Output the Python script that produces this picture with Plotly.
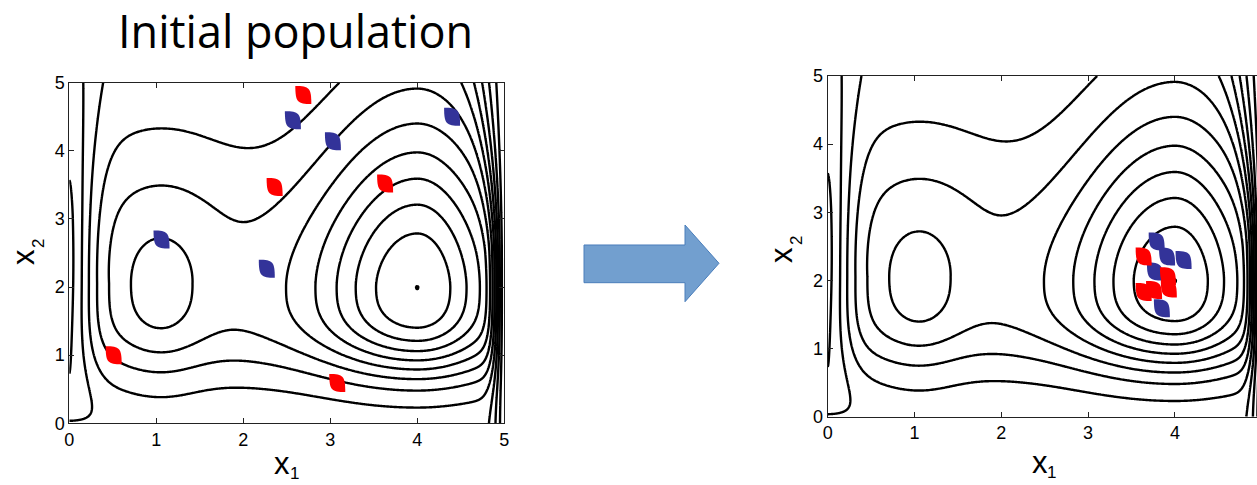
import numpy as np
import plotly.graph_objects as go

W, H = 1257, 485

# ---- data -------------------------------------------------------------
tick_vals = [0, 1, 2, 3, 4, 5]
contour_levels = dict(start=-1, end=11, size=1)

init_red_x = [2.69, 2.36, 3.63, 0.51, 3.08]
init_red_y = [4.82, 3.47, 3.52, 1.00, 0.59]
init_blue_x = [2.57, 3.03, 4.40, 1.06, 2.27]
init_blue_y = [4.45, 4.14, 4.50, 2.70, 2.27]

final_red_x = [3.64, 3.92, 3.93, 3.64, 3.76]
final_red_y = [2.35, 2.06, 1.88, 1.83, 1.86]
final_blue_x = [3.79, 3.91, 4.10, 3.77, 3.85]
final_blue_y = [2.57, 2.35, 2.30, 2.13, 1.59]


# ---- fitness landscape ------------------------------------------------
def bump(d, s_neg, s_pos, p_neg, p_pos):
    return np.where(d < 0,
                    np.exp(-(np.abs(d) / s_neg) ** p_neg),
                    np.exp(-(np.abs(d) / s_pos) ** p_pos))


xs = np.unique(np.concatenate([np.linspace(0, 5, 301),
                               np.linspace(0, 0.3, 61),
                               np.linspace(3.9, 4.1, 41),
                               np.linspace(4.6, 5, 161)]))
ys = np.unique(np.concatenate([np.linspace(0, 5, 301), np.linspace(1.9, 2.1, 41)]))
X, Y = np.meshgrid(xs, ys)

ridge = np.where(Y >= 2,
                 2.75 + 2.35 * np.exp(-((Y - 2) / 1.5) ** 2 / 2),
                 2.3 + 2.8 * np.exp(-(np.abs(Y - 2) / 1.3) ** 3))
dy2 = Y - 2
below = np.exp(-(np.abs(dy2) / 1.4) ** 3 - (dy2 / 2.5) ** 2)
above = np.exp(-(np.abs(dy2) / 2.7) ** 1.68)
peak_right = 5.901 * bump(X - 4, 1.10, 0.88, 2, 2) * np.where(dy2 < 0, below, above)
dy1 = Y - 2.05
sx1 = 0.5 + 0.2 * np.clip(dy1, 0, None)
peak_left = 1.5 * np.exp(-((X - 1.05) / sx1) ** 2) * bump(dy1, 1.3, 2.25, 2, 1.1)
F = ridge + peak_left + peak_right

# walls at x1 = 0 and x1 = 5
c_left = (0.8 + 0.25 * (1 - np.exp(-((Y - 2.35) / 1.3) ** 2))
          + 0.35 * np.clip((Y - 3) / 2, 0, 1) ** 1.5 + 1.3 * np.exp(-Y / 0.12))
w_left = 1 - np.exp(-(X / 0.28) ** 1.7)
Z = c_left + (F - c_left) * w_left
c_right = -0.6
s_right = 0.12 + 0.16 * np.clip((Y - 2.5) / 2.5, 0, 1) ** 1.5
w_right = 1 - np.exp(-(np.clip(5 - X, 0, None) / s_right) ** 1.7)
Z = c_right + (Z - c_right) * w_right
Z = np.round(Z, 5)

# ---- figure -----------------------------------------------------------
fig = go.Figure()
for xa, ya in (("x", "y"), ("x2", "y2")):
    fig.add_trace(go.Contour(
        x=xs, y=ys, z=Z, xaxis=xa, yaxis=ya,
        contours=dict(coloring="lines", **contour_levels),
        colorscale=[[0, "black"], [1, "black"]],
        line=dict(width=2.4, smoothing=1),
        showscale=False, hoverinfo="skip"))


def px(x):
    return x / W


def py(y):
    return 1 - y / H


axis_font = dict(family="Liberation Sans, Arial, sans-serif", size=18, color="black")
common = dict(showgrid=False, zeroline=False, showline=True, linecolor="#222",
              linewidth=1, ticks="inside", ticklen=5, tickcolor="#222",
              tickfont=axis_font, automargin=False, tickvals=tick_vals)

fig.update_layout(
    width=W, height=H, margin=dict(l=0, r=0, t=0, b=0),
    paper_bgcolor="white", plot_bgcolor="white", showlegend=False,
    xaxis=dict(domain=[px(69.3), px(504.3)], range=[0, 5], mirror="ticks", anchor="y", **common),
    yaxis=dict(domain=[py(423.3), py(82.7)], range=[0, 5], mirror="ticks", anchor="x", **common),
    xaxis2=dict(domain=[px(827.7), 1.0], range=[0, (W - 827.7) / 86.8], mirror="ticks", anchor="y2", **common),
    yaxis2=dict(domain=[py(416.7), py(76)], range=[0, 5], mirror=False, anchor="x2", **common),
)

# individuals: leaf glyphs (pointed top-left and bottom-right), anchored at their coordinates
glyph = "M -8,9 C 6,9 8,7 8,-9 C -6,-9 -8,-7 -8,9 Z"
shapes = []
for xr, yr, xv, yv, col in (
        ("x", "y", init_red_x, init_red_y, "#ff0000"),
        ("x", "y", init_blue_x, init_blue_y, "#333399"),
        ("x2", "y2", final_blue_x, final_blue_y, "#333399"),
        ("x2", "y2", final_red_x, final_red_y, "#ff0000")):
    for a, b in zip(xv, yv):
        shapes.append(dict(type="path", xref=xr, yref=yr, xsizemode="pixel", ysizemode="pixel",
                           xanchor=a, yanchor=b, path=glyph, fillcolor=col,
                           line=dict(width=0), layer="above"))

# block arrow between the panels
arrow_pts = [(584, 245), (685, 245), (685, 225), (719, 263.3), (685, 301.7), (685, 282.7), (584, 282.7)]
arrow_path = "M " + " L ".join(f"{px(x):.5f},{py(y):.5f}" for x, y in arrow_pts) + " Z"
shapes.append(dict(type="path", xref="paper", yref="paper", path=arrow_path,
                   fillcolor="#729fcf", line=dict(color="#4a7ebb", width=1)))
fig.update_layout(shapes=shapes)

fig.add_annotation(text="Initial population", x=px(295.5), y=py(31), xref="paper", yref="paper",
                   showarrow=False, xanchor="center", yanchor="middle",
                   font=dict(family="Open Sans, sans-serif", size=45, color="black"))

# axis titles: a large "x" with its index set lower and to the right
letter_font = dict(family="Liberation Sans, Arial, sans-serif", size=31, color="black")
index_font = dict(family="Liberation Sans, Arial, sans-serif", size=17, color="black")
for (lx, ly), (ix, iy), idx, ang in (
        ((281.5, 463), (294, 473), "1", 0),
        ((1040, 462), (1051, 472), "1", 0),
        ((23, 257), (38, 244), "2", -90),
        ((781, 255), (796, 241), "2", -90)):
    fig.add_annotation(text="x", x=px(lx), y=py(ly), xref="paper", yref="paper",
                       showarrow=False, xanchor="center", yanchor="middle",
                       textangle=ang, font=letter_font)
    fig.add_annotation(text=idx, x=px(ix), y=py(iy), xref="paper", yref="paper",
                       showarrow=False, xanchor="center", yanchor="middle",
                       textangle=ang, font=index_font)

fig.write_html("out.html")
